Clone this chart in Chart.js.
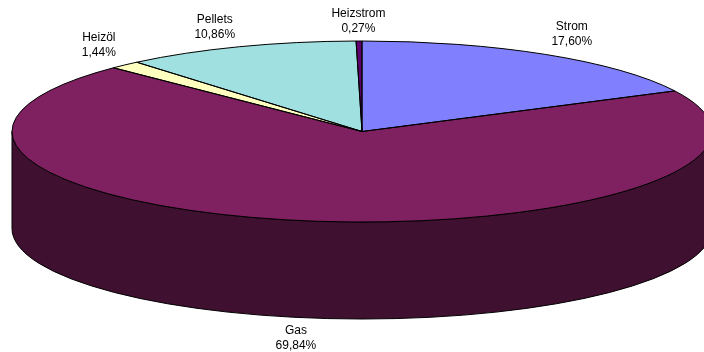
<!DOCTYPE html>
<html>
<head>
<meta charset="utf-8">
<script src="https://cdn.jsdelivr.net/npm/chart.js@4/dist/chart.umd.min.js"></script>
<style>
  html, body { margin: 0; padding: 0; background: #fff; }
  #wrap { position: relative; width: 704px; height: 352px; }
</style>
</head>
<body>
<div id="wrap"><canvas id="pie"></canvas></div>
<script>
// Energieträger und Anteile (im Uhrzeigersinn ab 12 Uhr)
const kategorien = ['Strom', 'Gas', 'Heizöl', 'Pellets', 'Heizstrom'];
const anteile = [17.60, 69.84, 1.44, 10.86, 0.27];
const farben = ['#8080FF', '#7F2060', '#FFFFC0', '#A0E0E0', '#600070'];

const NEIGUNG = 0.2586;   // Höhe/Breite der Ellipse
const TIEFE = 97;         // Höhe der Seitenwand in px

// Farbe für die Seitenwand abdunkeln
function dunkler(hex, f) {
  const n = parseInt(hex.slice(1), 16);
  const r = Math.round(((n >> 16) & 255) * f);
  const g = Math.round(((n >> 8) & 255) * f);
  const b = Math.round((n & 255) * f);
  return 'rgb(' + r + ',' + g + ',' + b + ')';
}

const pie3d = {
  id: 'pie3d',
  beforeDatasetsDraw(chart) {
    const ctx = chart.ctx;
    const arcs = chart.getDatasetMeta(0).data;
    const {x, y, outerRadius: R} = arcs[0];
    const ry = R * NEIGUNG;

    // Seitenwände: nur der vordere Teil (0..π) ist sichtbar
    ctx.save();
    ctx.lineWidth = 1;
    ctx.strokeStyle = '#000';
    arcs.forEach((arc, i) => {
      const a0 = Math.max(arc.startAngle, 0);
      const a1 = Math.min(arc.endAngle, Math.PI);
      if (a1 <= a0) return;
      ctx.beginPath();
      ctx.ellipse(x, y, R, ry, 0, a0, a1, false);
      ctx.ellipse(x, y + TIEFE, R, ry, 0, a1, a0, true);
      ctx.closePath();
      ctx.fillStyle = dunkler(farben[i], 0.5);
      ctx.fill();
      ctx.stroke();
    });
    ctx.restore();

    // Deckfläche gestaucht zeichnen lassen
    ctx.save();
    ctx.translate(x, y);
    ctx.scale(1, NEIGUNG);
    ctx.translate(-x, -y);
  },
  afterDatasetsDraw(chart) {
    const ctx = chart.ctx;
    ctx.restore();
    const arcs = chart.getDatasetMeta(0).data;
    const {x, y, outerRadius: R} = arcs[0];
    const ry = R * NEIGUNG;

    // Umrisse der Segmente
    ctx.save();
    ctx.lineWidth = 1;
    ctx.strokeStyle = '#000';
    arcs.forEach(arc => {
      ctx.beginPath();
      ctx.moveTo(x, y);
      ctx.ellipse(x, y, R, ry, 0, arc.startAngle, arc.endAngle, false);
      ctx.closePath();
      ctx.stroke();
    });

    // Beschriftungen außen
    ctx.fillStyle = '#000';
    ctx.font = '12px "Liberation Sans", Arial, sans-serif';
    ctx.textAlign = 'center';
    ctx.textBaseline = 'middle';
    arcs.forEach((arc, i) => {
      const mitte = (arc.startAngle + arc.endAngle) / 2;
      const c = Math.cos(mitte), s = Math.sin(mitte);
      const ax = x + R * c;
      const ay = y + ry * s + (s > 0 ? TIEFE : 0);
      const lx = ax + Math.sign(c) * Math.min(Math.abs(c) * 70, 26);
      const ly = ay + Math.sign(s) * 20;
      const wert = anteile[i].toFixed(2).replace('.', ',') + '%';
      ctx.fillText(chart.data.labels[i], lx, ly - 7.5);
      ctx.fillText(wert, lx, ly + 7.5);
    });
    ctx.restore();
  }
};

new Chart(document.getElementById('pie'), {
  type: 'pie',
  data: {
    labels: kategorien,
    datasets: [{
      data: anteile,
      backgroundColor: farben,
      borderWidth: 0
    }]
  },
  options: {
    responsive: true,
    maintainAspectRatio: false,
    animation: false,
    radius: 350,
    layout: { padding: { left: 20, top: 0, right: 0, bottom: 89 } },
    plugins: {
      legend: { display: false },
      tooltip: { enabled: false }
    }
  },
  plugins: [pie3d]
});
</script>
</body>
</html>
